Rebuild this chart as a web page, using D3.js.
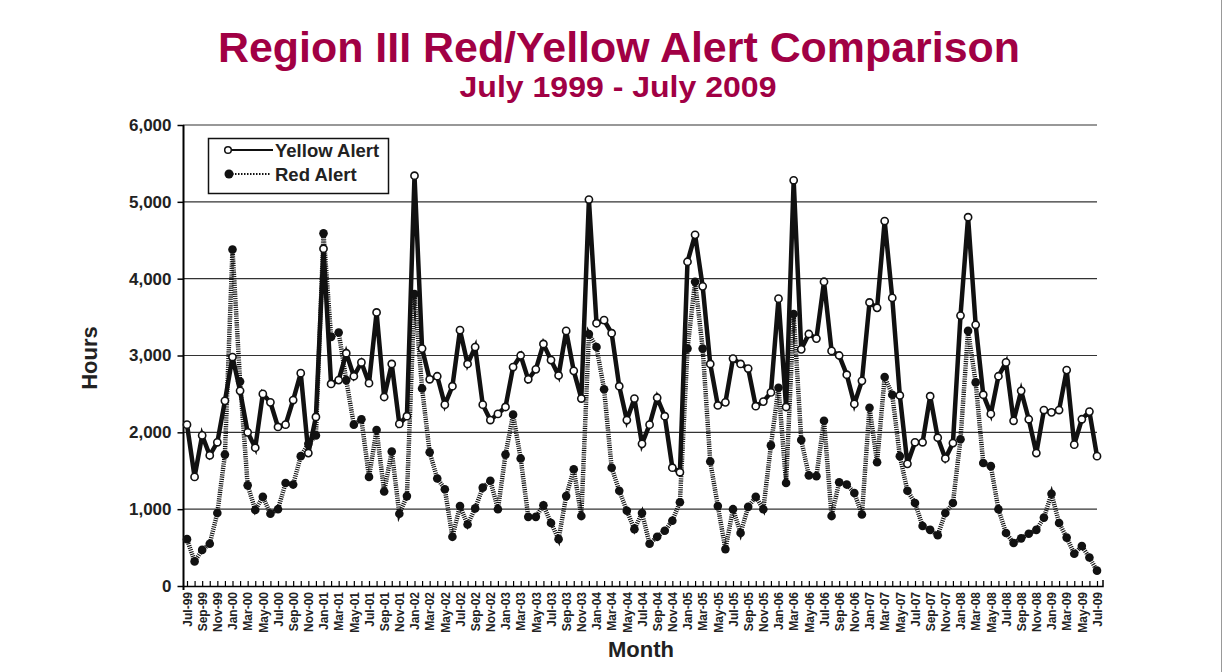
<!DOCTYPE html>
<html>
<head>
<meta charset="utf-8">
<script src="https://cdn.jsdelivr.net/npm/d3@7"></script>
<style>
  body { margin: 0; background: #fff; }
  svg text { font-family: 'Liberation Sans', Arial, Helvetica, sans-serif; font-weight: bold; }
</style>
</head>
<body>
<script>
// hours per month, Jul-99 .. Jul-09
const yellowAlert = [
  2100, 1420, 1960, 1700, 1870, 2410, 2980, 2540, 2000, 1800, 2500, 2390,
  2070, 2100, 2420, 2770, 1730, 2200, 4390, 2630, 2680, 3030, 2730, 2910,
  2640, 3560, 2460, 2890, 2110, 2210, 5340, 3090, 2690, 2730, 2360, 2600,
  3330, 2890, 3110, 2360, 2160, 2240, 2330, 2850, 3000, 2690, 2820, 3150,
  2940, 2740, 3320, 2800, 2440, 5030, 3420, 3460, 3290, 2600, 2160, 2440,
  1850, 2100, 2450, 2210, 1540, 1480, 4220, 4570, 3900, 2890, 2350, 2390,
  2960, 2890, 2830, 2340, 2400, 2520, 3740, 2330, 5280, 3080, 3280, 3220,
  3960, 3060, 3000, 2750, 2370, 2670, 3690, 3620, 4750, 3750, 2480, 1590,
  1870, 1870, 2470, 1930, 1660, 1860, 3520, 4800, 3400, 2490, 2240, 2730,
  2910, 2150, 2540, 2170, 1730, 2290, 2260, 2290, 2810, 1840, 2170, 2270,
  1690
];
const redAlert = [
  610, 320, 470, 550, 950, 1710, 4380, 2660, 1310, 990, 1160, 940,
  1000, 1340, 1320, 1690, 1850, 1960, 4590, 3240, 3300, 2680, 2100, 2170,
  1420, 2030, 1230, 1750, 940, 1170, 3800, 2570, 1740, 1400, 1260, 640,
  1040, 800, 1010, 1280, 1370, 1000, 1710, 2230, 1660, 900, 900, 1050,
  820, 610, 1170, 1520, 910, 3280, 3110, 2560, 1540, 1240, 980, 740,
  950, 550, 640, 720, 850, 1090, 3090, 3960, 3090, 1620, 1040, 480,
  1000, 690, 1030, 1160, 1000, 1830, 2580, 1340, 3540, 1900, 1440, 1430,
  2150, 910, 1350, 1320, 1210, 930, 2320, 1610, 2720, 2490, 1690, 1240,
  1080, 780, 730, 660, 950, 1080, 1910, 3320, 2650, 1600, 1560, 1000,
  690, 560, 620, 680, 730, 890, 1200, 820, 630, 420, 520, 370,
  200
];
const yTicks = [0, 1000, 2000, 3000, 4000, 5000, 6000];
const months = d3.timeMonth.range(new Date(1999, 6, 1), new Date(2009, 7, 1));
const monthLabels = months.map(d3.timeFormat('%b-%y'));

const width = 1223;
const height = 672;
const titleColor = '#a10044';

const svg = d3.select('body').append('svg')
  .attr('width', width)
  .attr('height', height)
;

const x = d3.scalePoint()
  .domain(monthLabels)
  .range([187, 1097])
;
const y = d3.scaleLinear()
  .domain([0, 6000])
  .range([586, 125])
;

// page edge
svg.append('line')
  .attr('x1', 1221.5).attr('x2', 1221.5)
  .attr('y1', 0).attr('y2', height)
  .attr('stroke', '#999')
;

// titles
svg.append('text')
  .attr('x', 619).attr('y', 62)
  .attr('text-anchor', 'middle')
  .attr('font-size', 42)
  .attr('fill', titleColor)
  .attr('textLength', 802)
  .attr('lengthAdjust', 'spacingAndGlyphs')
  .text('Region III Red/Yellow Alert Comparison')
;
svg.append('text')
  .attr('x', 618).attr('y', 97)
  .attr('text-anchor', 'middle')
  .attr('font-size', 29)
  .attr('fill', titleColor)
  .attr('textLength', 317)
  .attr('lengthAdjust', 'spacingAndGlyphs')
  .text('July 1999 - July 2009')
;

// grid
svg.append('g')
  .selectAll('line')
  .data(yTicks.filter(d => d > 0))
  .enter().append('line')
  .attr('x1', 183).attr('x2', 1097)
  .attr('y1', d => y(d)).attr('y2', d => y(d))
  .attr('stroke', '#333')
  .attr('stroke-width', 1.2)
;

// y axis
const yAxis = svg.append('g')
  .attr('transform', 'translate(183.5,0)')
  .call(d3.axisLeft(y).tickValues(yTicks).tickFormat(d3.format(',')).tickSize(6).tickSizeOuter(0).tickPadding(6))
;
yAxis.select('.domain').attr('stroke-width', 2).attr('d', 'M0,125V590');
yAxis.selectAll('.tick line').attr('stroke-width', 1.5);
yAxis.selectAll('.tick text')
  .attr('font-size', 17)
  .attr('font-family', "'Liberation Sans', Arial, sans-serif")
  .attr('fill', '#222')
;

// x axis
const xAxis = svg.append('g')
  .attr('transform', 'translate(0,586)')
  .call(d3.axisBottom(x).tickSizeInner(-5).tickSizeOuter(0).tickFormat((d, i) => i % 2 ? '' : d))
;
xAxis.select('.domain').remove();
xAxis.selectAll('.tick line').attr('stroke-width', 1.2);
xAxis.selectAll('.tick text')
  .attr('transform', 'rotate(-90)')
  .attr('x', -6)
  .attr('y', 0)
  .attr('dy', '0.36em')
  .attr('text-anchor', 'end')
  .attr('font-size', 12)
  .attr('font-family', "'Liberation Sans Narrow', 'DejaVu Sans Condensed', sans-serif")
  .attr('fill', '#222')
;
svg.append('path')
  .attr('d', 'M183,586.5H1103V580')
  .attr('fill', 'none')
  .attr('stroke', '#000')
  .attr('stroke-width', 1.5)
;

// axis titles
svg.append('text')
  .attr('transform', 'translate(97,358) rotate(-90)')
  .attr('text-anchor', 'middle')
  .attr('font-size', 22)
  .attr('fill', '#222')
  .text('Hours')
;
svg.append('text')
  .attr('x', 641).attr('y', 657)
  .attr('text-anchor', 'middle')
  .attr('font-size', 22)
  .attr('fill', '#222')
  .text('Month')
;

// series
const line = d3.line()
  .x((d, i) => x(monthLabels[i]))
  .y(d => y(d))
;
svg.append('path')
  .datum(redAlert)
  .attr('d', line)
  .attr('fill', 'none')
  .attr('stroke', '#111')
  .attr('stroke-width', 4.5)
  .attr('stroke-dasharray', '1.1 1.1')
;
svg.append('path')
  .datum(yellowAlert)
  .attr('d', line)
  .attr('fill', 'none')
  .attr('stroke', '#111')
  .attr('stroke-width', 4.5)
  .attr('stroke-linejoin', 'miter')
;
svg.append('g')
  .selectAll('circle')
  .data(redAlert)
  .enter().append('circle')
  .attr('cx', (d, i) => x(monthLabels[i]))
  .attr('cy', d => y(d))
  .attr('r', 4.3)
  .attr('fill', '#111')
;
svg.append('g')
  .selectAll('circle')
  .data(yellowAlert)
  .enter().append('circle')
  .attr('cx', (d, i) => x(monthLabels[i]))
  .attr('cy', d => y(d))
  .attr('r', 3.6)
  .attr('fill', '#fff')
  .attr('stroke', '#111')
  .attr('stroke-width', 1.6)
;

// legend
const legend = svg.append('g');
legend.append('rect')
  .attr('x', 208.5).attr('y', 138.5)
  .attr('width', 180).attr('height', 55)
  .attr('fill', '#fff')
  .attr('stroke', '#111')
  .attr('stroke-width', 1.5)
;
legend.append('line')
  .attr('x1', 231).attr('x2', 273)
  .attr('y1', 150).attr('y2', 150)
  .attr('stroke', '#111').attr('stroke-width', 2)
;
legend.append('circle')
  .attr('cx', 228).attr('cy', 150).attr('r', 3.3)
  .attr('fill', '#fff').attr('stroke', '#111').attr('stroke-width', 1.5)
;
legend.append('text')
  .attr('x', 275).attr('y', 157)
  .attr('font-size', 18.5)
  .attr('fill', '#222')
  .text('Yellow Alert')
;
legend.append('line')
  .attr('x1', 232).attr('x2', 271)
  .attr('y1', 174).attr('y2', 174)
  .attr('stroke', '#111').attr('stroke-width', 2)
  .attr('stroke-dasharray', '1.5 1.5')
;
legend.append('circle')
  .attr('cx', 229).attr('cy', 174).attr('r', 4.5)
  .attr('fill', '#111')
;
legend.append('text')
  .attr('x', 275).attr('y', 181)
  .attr('font-size', 18.5)
  .attr('fill', '#222')
  .text('Red Alert')
;
</script>
</body>
</html>
